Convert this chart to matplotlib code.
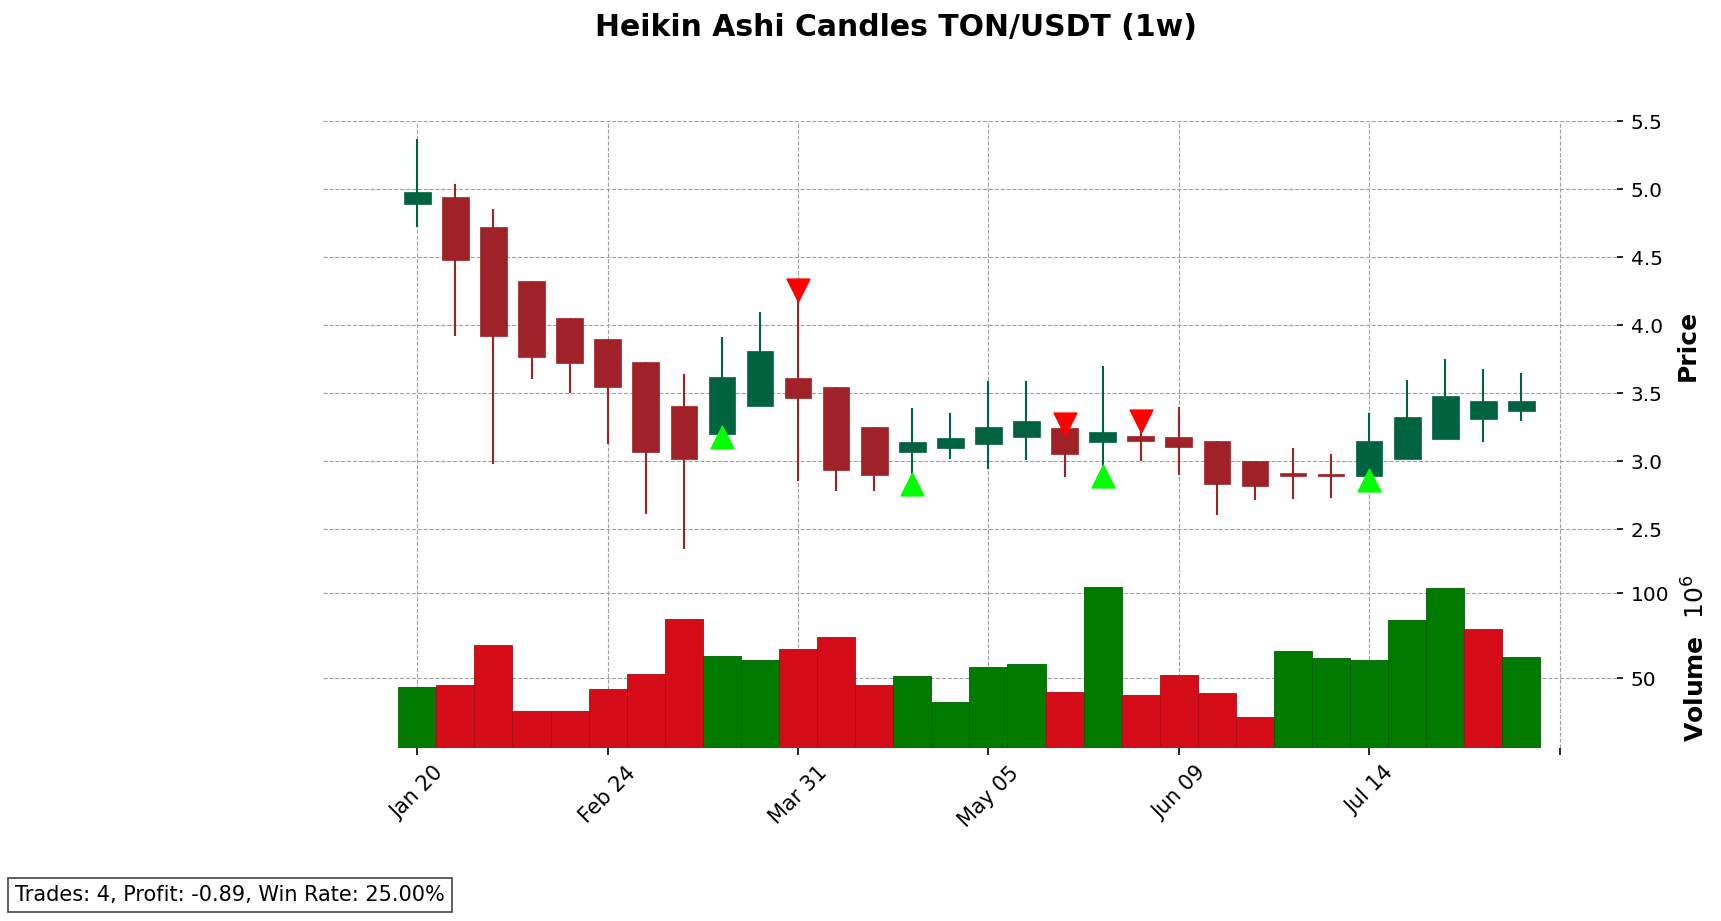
import matplotlib
matplotlib.use("Agg")
import matplotlib.pyplot as plt

# weekly heikin ashi values
ha_open = [4.895, 4.944, 4.723, 4.326, 4.054, 3.900, 3.730, 3.407, 3.203, 3.409,
           3.613, 3.547, 3.252, 3.071, 3.100, 3.130, 3.181, 3.245, 3.145, 3.186,
           3.179, 3.149, 3.002, 2.912, 2.905, 2.894, 3.020, 3.167, 3.314, 3.373]
ha_high = [5.370, 5.039, 4.855, 4.326, 4.054, 3.900, 3.730, 3.642, 3.914, 4.098,
           4.211, 3.547, 3.252, 3.392, 3.355, 3.591, 3.591, 3.245, 3.701, 3.265,
           3.400, 3.149, 3.002, 3.098, 3.054, 3.355, 3.598, 3.752, 3.679, 3.650]
ha_low = [4.723, 3.924, 2.983, 3.608, 3.502, 3.127, 2.613, 2.358, 3.203, 3.409,
          2.858, 2.784, 2.784, 2.875, 3.020, 2.946, 3.010, 2.887, 2.941, 3.003,
          2.900, 2.608, 2.718, 2.725, 2.733, 2.894, 3.020, 3.167, 3.145, 3.299]
ha_close = [4.978, 4.483, 3.924, 3.770, 3.725, 3.549, 3.071, 3.017, 3.620, 3.811,
            3.468, 2.939, 2.902, 3.142, 3.172, 3.252, 3.297, 3.056, 3.216, 3.152,
            3.108, 2.836, 2.821, 2.890, 2.895, 3.150, 3.328, 3.480, 3.444, 3.444]

# volume in millions, and whether the real candle closed up
volume = [44.9, 45.7, 69.6, 30.4, 30.4, 43.3, 52.2, 85.1, 63.1, 60.4,
          66.9, 74.3, 45.7, 51.4, 35.7, 56.3, 58.4, 41.6, 103.9, 39.8,
          51.6, 41.0, 26.9, 65.7, 61.6, 60.4, 84.5, 103.3, 79.2, 62.2]
vol_up = [1, 0, 0, 0, 0, 0, 0, 0, 1, 1, 0, 0, 0, 1, 1, 1, 1, 0, 1, 0,
          0, 0, 0, 1, 1, 1, 1, 1, 0, 1]

# trade signals
buy_idx = [8, 13, 18, 25]
buy_price = [3.176, 2.836, 2.893, 2.866]
sell_idx = [10, 17, 19]
sell_price = [4.263, 3.273, 3.298]

tick_pos = [0, 5, 10, 15, 20, 25, 30]
tick_labels = ["Jan 20", "Feb 24", "Mar 31", "May 05", "Jun 09", "Jul 14", ""]

UP = "#006340"
DOWN = "#A02128"
VUP = "#007a00"
VDOWN = "#d50d18"
GRID = "#a0a0a0"


def main():
    fig = plt.figure(figsize=(17.21, 9.21), dpi=100)
    ax = fig.add_axes([0.18751, 0.38219, 0.75206, 0.48643])
    axv = fig.add_axes([0.18751, 0.18838, 0.75206, 0.19381], sharex=ax)

    n = len(ha_open)
    x = list(range(n))

    # candles
    for i in x:
        c = UP if ha_close[i] >= ha_open[i] else DOWN
        ax.vlines(i, ha_low[i], ha_high[i], color=c, linewidth=1.5, zorder=2)
        lo = min(ha_open[i], ha_close[i])
        h = max(abs(ha_close[i] - ha_open[i]), 0.012)
        ax.bar(i, h, bottom=lo, width=0.7, color=c, edgecolor=c, linewidth=0.5, zorder=3)

    ax.scatter(buy_idx, buy_price, marker="^", s=270, color="#00ff00", zorder=4)
    ax.scatter(sell_idx, sell_price, marker="v", s=270, color="#ff0000", zorder=4)

    # volume
    vcolors = [VUP if u else VDOWN for u in vol_up]
    vedges = ["#006000" if u else "#b00a14" for u in vol_up]
    axv.bar(x, volume, width=1.0, color=vcolors, edgecolor=vedges, linewidth=0.6, zorder=2)

    ax.set_xlim(-2.485, 31.51)
    ax.set_ylim(2.208, 5.502)
    axv.set_ylim(9.1, 114.3)

    for a in (ax, axv):
        for s in a.spines.values():
            s.set_visible(False)
        a.grid(True, linestyle="--", color=GRID, linewidth=0.8)
        a.set_axisbelow(True)
        a.yaxis.tick_right()
        a.yaxis.set_label_position("right")
        a.tick_params(axis="y", which="both", length=4, width=1.2, pad=6, labelsize=14.5)

    ax.set_yticks([2.5, 3.0, 3.5, 4.0, 4.5, 5.0, 5.5])
    axv.set_yticks([50, 100])
    axv.set_yticklabels(["50", "100"])

    axv.set_xticks(tick_pos)
    axv.set_xticklabels(tick_labels, rotation=45, ha="center")
    axv.tick_params(axis="x", length=5, width=1.2, pad=6, labelsize=15)
    ax.tick_params(axis="x", length=0, labelbottom=False)

    ax.set_ylabel("Price", fontsize=18, fontweight="bold", labelpad=9)
    axv.set_ylabel("Volume  $10^{6}$", fontsize=18, fontweight="bold", labelpad=9)

    fig.text(0.5207, 0.9696, "Heikin Ashi Candles TON/USDT (1w)", fontsize=21.5,
             fontweight="bold", ha="center", va="center")

    fig.text(15 / 1721, 1 - 895 / 921, "Trades: 4, Profit: -0.89, Win Rate: 25.00%",
             fontsize=15, ha="left", va="center",
             bbox=dict(boxstyle="square,pad=0.33", facecolor="white",
                       edgecolor="#444444", linewidth=1.2))

    plt.savefig("out.png")


main()
